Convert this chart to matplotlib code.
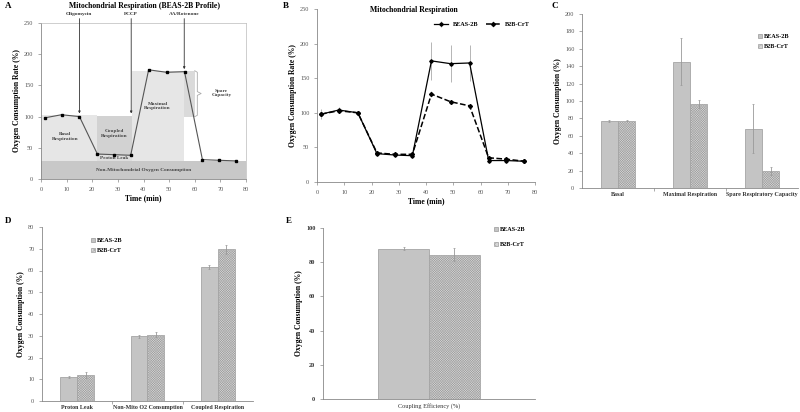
import numpy as np
import matplotlib
matplotlib.use('Agg')
import matplotlib.pyplot as plt
from matplotlib.patches import Rectangle, Patch

plt.rcParams['font.family'] = ['Liberation Serif', 'DejaVu Serif']
plt.rcParams['hatch.linewidth'] = 0.35

# Profile data (A and B)
time = [1.5, 8, 15, 22, 28.5, 35, 42, 49, 56, 63, 69.5, 76]
beas = [98, 104, 100, 41, 39, 38, 175, 171, 172, 31, 31, 30]
beas_err = [7, 5, 1, 2, 1, 1, 27, 27, 26, 1, 1, 1]
b2b = [98, 103, 100, 42, 40, 40, 127, 116, 110, 35, 33, 30]
b2b_err = [3, 3, 1, 1, 1, 1, 4, 2, 2, 1, 1, 1]
profile = [98, 103, 100, 40, 39, 38, 175, 171, 172, 31, 30, 29]

# C
c_cats = ['Basal', 'Maximal Respiration', 'Spare Respiratory Capacity']
c_beas = [77, 145, 68]
c_beas_err = [1, 27, 28]
c_b2b = [77.5, 97, 19.5]
c_b2b_err = [1, 4.5, 4.5]

# D
d_cats = ['Proton Leak', 'Non-Mito O2 Consumption', 'Coupled Respiration']
d_beas = [11, 29.7, 61.7]
d_beas_err = [0.3, 0.6, 1]
d_b2b = [12, 30.5, 69.8]
d_b2b_err = [1.3, 1, 2]

# E
e_cats = ['Coupling Efficiency (%)']
e_beas = [88]
e_beas_err = [1]
e_b2b = [84.5]
e_b2b_err = [4]

W, H = 800, 412
fig = plt.figure(figsize=(8, 4.12), dpi=100)


def px(l, t, r, b):
    return [l / W, 1 - b / H, (r - l) / W, (b - t) / H]


def ftext(x, y, s, **kw):
    fig.text(x / W, 1 - y / H, s, **kw)


def style(ax):
    for s in ['top', 'right']:
        ax.spines[s].set_visible(False)
    for s in ['left', 'bottom']:
        ax.spines[s].set_color('#888888')
        ax.spines[s].set_linewidth(0.6)
    ax.tick_params(colors='#888888', labelsize=4.5, width=0.5, length=2,
                   labelcolor='#555555')


grey = '#c4c4c4'
hatch_face = '#d6d6d6'
hatch = 'x' * 14

# ---------------- A ----------------
axA = fig.add_axes(px(41, 23, 246, 179))
style(axA)
for s in ['top', 'right']:
    axA.spines[s].set_visible(True)
    axA.spines[s].set_color('#bbbbbb')
    axA.spines[s].set_linewidth(0.5)
axA.set_xlim(0, 80)
axA.set_ylim(0, 250)
axA.set_xticks(range(0, 81, 10))
axA.set_yticks([0, 50, 100, 150, 200, 250])

axA.add_patch(Rectangle((0, 29), 22, 74, fc='#e6e6e6', ec='none', zorder=0))
axA.add_patch(Rectangle((22, 38.5), 13.4, 63, fc='#d2d2d2', ec='none', zorder=0))
axA.add_patch(Rectangle((22, 29), 13.4, 9.5, fc='#dedede', ec='none', zorder=0))
axA.add_patch(Rectangle((35.4, 29), 20.4, 144.5, fc='#e6e6e6', ec='none', zorder=0))
axA.add_patch(Rectangle((55.8, 100), 4.2, 73.5, fc='#dadada', ec='none', zorder=0))
axA.add_patch(Rectangle((0, 0), 80, 29, fc='#c8c8c8', ec='none', zorder=0))
# brace for spare capacity
bx = [60, 61, 61, 62.5, 61, 61, 60]
by = [173.5, 171, 140, 137, 134, 102, 100]
axA.plot(bx, by, color='#aaaaaa', lw=0.6)

axA.plot(time, profile, color='#555555', lw=0.8, marker='s', ms=1.5,
         mfc='black', mec='black')

for x, ybot, lab in [(15, 105, 'Oligomycin'), (35.2, 105, 'FCCP'),
                     (55.9, 176, 'AA/Rotenone')]:
    axA.annotate('', xy=(x, ybot), xytext=(x, 257),
                 arrowprops=dict(arrowstyle='-|>', color='#333333', lw=0.6,
                                 mutation_scale=3, shrinkA=0, shrinkB=0),
                 annotation_clip=False)
    axA.text(x, 262, lab, ha='center', va='bottom', fontsize=3.8,
             fontweight='bold', color='#333333', clip_on=False)

kw = dict(ha='center', va='center', fontsize=3.8, fontweight='bold', color='#444444')
axA.text(9.5, 68, 'Basal\nRespiration', **kw)
axA.text(28.7, 73, 'Coupled\nRespiration', **kw)
axA.text(28.7, 33.5, 'Proton Leak', **kw)
axA.text(45.5, 117, 'Maximal\nRespiration', **kw)
axA.text(70.5, 138, 'Spare\nCapacity', **kw)
axA.text(40, 15, 'Non-Mitochondrial Oxygen Consumption', **kw)

axA.set_xlabel('Time (min)', fontsize=5.5, fontweight='bold', labelpad=1.5)
axA.set_ylabel('Oxygen Consumption Rate (%)', fontsize=5.5, fontweight='bold', labelpad=2)
ftext(145, 6, 'Mitochondrial Respiration (BEAS-2B Profile)', ha='center', va='center',
      fontsize=5.6, fontweight='bold')

# ---------------- B ----------------
axB = fig.add_axes(px(317, 9, 535, 182))
style(axB)
axB.set_xlim(0, 80)
axB.set_ylim(0, 250)
axB.set_xticks(range(0, 81, 10))
axB.set_yticks([0, 50, 100, 150, 200, 250])
axB.errorbar(time, beas, yerr=beas_err, color='black', lw=0.9, marker='D', ms=1.8,
             ecolor='#aaaaaa', elinewidth=0.6, capsize=0, label='BEAS-2B')
axB.errorbar(time, b2b, yerr=b2b_err, color='black', lw=1.1, ls='--', marker='D', ms=2,
             ecolor='#aaaaaa', elinewidth=0.6, capsize=0, label='B2B-CrT')
axB.legend(loc='upper right', ncol=2, frameon=False, handlelength=2.2,
           columnspacing=1.2, bbox_to_anchor=(1.0, 0.96),
           prop=dict(weight='bold', size=4.5))
axB.set_xlabel('Time (min)', fontsize=5.5, fontweight='bold', labelpad=1.5)
axB.set_ylabel('Oxygen Consumption Rate (%)', fontsize=5.5, fontweight='bold', labelpad=2)
ftext(414, 10, 'Mitochondrial Respiration', ha='center', va='center',
      fontsize=5.6, fontweight='bold')


def bars(ax, cats, v1, e1, v2, e2, w=0.24):
    x = np.arange(len(cats))
    ax.bar(x - w / 2, v1, w, color=grey, edgecolor='#999999', lw=0.5)
    ax.bar(x + w / 2, v2, w, color=hatch_face, edgecolor='#a0a0a0', lw=0.5, hatch=hatch)
    ax.errorbar(x - w / 2, v1, yerr=e1, fmt='none', ecolor='#999999', elinewidth=0.6, capsize=1,
                capthick=0.5)
    ax.errorbar(x + w / 2, v2, yerr=e2, fmt='none', ecolor='#999999', elinewidth=0.6, capsize=1,
                capthick=0.5)
    ax.set_xticks(x)
    ax.set_xticklabels(cats, fontsize=4.3, fontweight='bold', color='#333333')
    ax.set_xlim(-0.5, len(cats) - 0.5)
    ax.tick_params(axis='x', which='major', length=0, pad=3)
    if len(cats) > 1:
        ax.set_xticks(x[:-1] + 0.5, minor=True)
        ax.tick_params(axis='x', which='minor', length=2.5, width=0.5, colors='#888888')


def leg(ax, fx, fy, spacing=0.8):
    h = [Patch(fc=grey, ec='#999999', lw=0.5),
         Patch(fc=hatch_face, ec='#a0a0a0', lw=0.5, hatch='xxxxxx')]
    ax.legend(h, ['BEAS-2B', 'B2B-CrT'], loc='upper left', bbox_to_anchor=(fx / W, 1 - fy / H),
              bbox_transform=fig.transFigure, frameon=False, handlelength=0.6,
              handleheight=0.6, handletextpad=0.3, labelspacing=spacing,
              prop=dict(weight='bold', size=4.5), borderpad=0)


# ---------------- C ----------------
axC = fig.add_axes(px(582, 14, 798, 188))
style(axC)
bars(axC, c_cats, c_beas, c_beas_err, c_b2b, c_b2b_err)
axC.set_ylim(0, 200)
axC.set_yticks(range(0, 201, 20))
axC.set_ylabel('Oxygen Consumption (%)', fontsize=5.5, fontweight='bold', labelpad=2)
leg(axC, 755, 31)

# ---------------- D ----------------
axD = fig.add_axes(px(42, 227, 253, 401))
style(axD)
bars(axD, d_cats, d_beas, d_beas_err, d_b2b, d_b2b_err)
axD.set_ylim(0, 80)
axD.set_yticks(range(0, 81, 10))
axD.set_ylabel('Oxygen Consumption (%)', fontsize=5.5, fontweight='bold', labelpad=2)
leg(axD, 88, 235)

# ---------------- E ----------------
axE = fig.add_axes(px(323, 228, 535, 399))
style(axE)
bars(axE, e_cats, e_beas, e_beas_err, e_b2b, e_b2b_err)
axE.set_xticklabels(e_cats, fontsize=4.5, fontweight='normal', color='#333333')
axE.set_ylim(0, 100)
axE.set_yticks(range(0, 101, 20))
axE.tick_params(axis='y', labelcolor='#333333')
for t in axE.get_yticklabels():
    t.set_fontweight('bold')
axE.set_ylabel('Oxygen Consumption (%)', fontsize=5.5, fontweight='bold', labelpad=2)
leg(axE, 491, 224, spacing=1.6)

# panel letters
for x, y, s in [(5, 6, 'A'), (283, 6, 'B'), (552, 6, 'C'), (5, 221, 'D'), (286, 221, 'E')]:
    ftext(x, y, s, ha='left', va='center', fontsize=6.5, fontweight='bold')

fig.savefig('out.png', dpi=100)
